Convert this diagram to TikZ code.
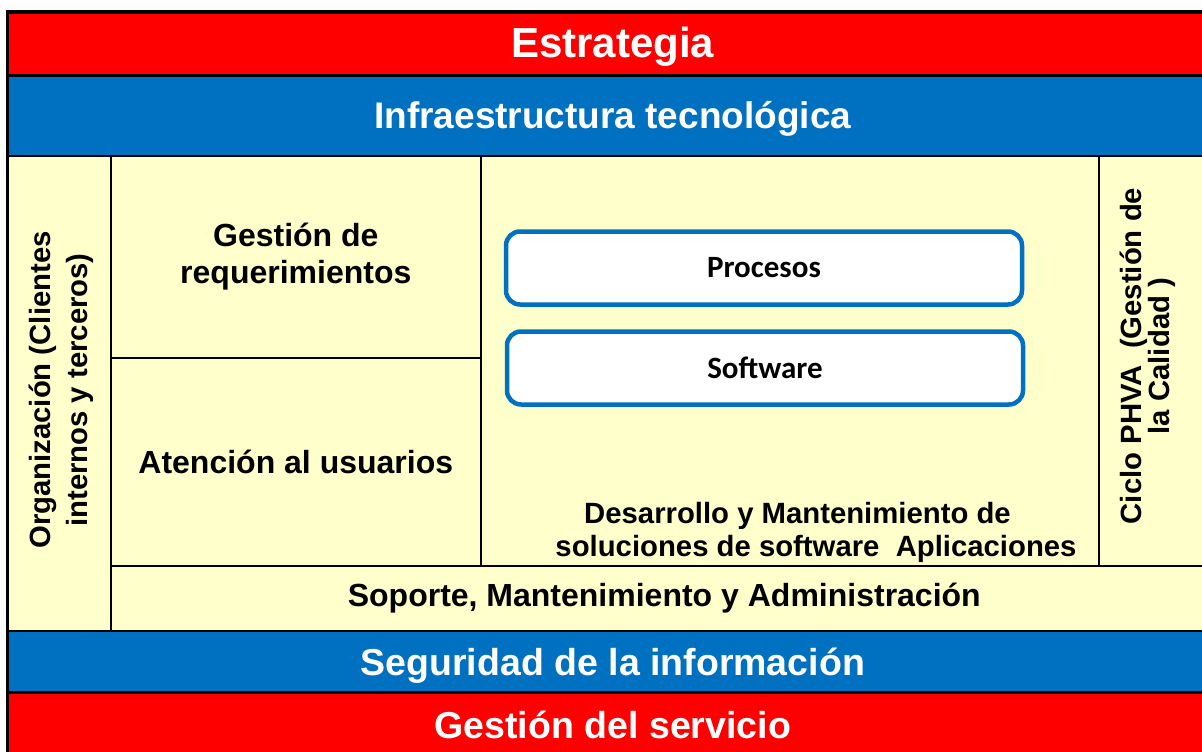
\documentclass[tikz,border=0pt]{standalone}
\usepackage{fontspec}
\setmainfont{Liberation Sans}
\newfontfamily\calibri{Carlito}
\definecolor{rojo}{HTML}{FF0000}
\definecolor{azul}{HTML}{0070C0}
\definecolor{crema}{HTML}{FFFFCC}

\begin{document}
\begin{tikzpicture}[x=1pt, y=-1pt,
  celda/.style={draw, line width=1.6pt, fill=crema, inner sep=0pt, anchor=north west, font=\bfseries\fontsize{32}{37}\selectfont, align=center},
  franja/.style={celda, text=white, font=\bfseries\fontsize{37.5}{42}\selectfont},
  caja/.style={draw=azul, line width=4.5pt, fill=white, rounded corners=14pt, minimum width=516pt, minimum height=73pt, font=\calibri\bfseries\fontsize{31}{34}\selectfont}]
\useasboundingbox (0,0) rectangle (1202,752);
\clip (0,0) rectangle (1202,752);
\fill[white] (0,0) rectangle (1202,752);
% franjas superiores
\node[franja, fill=rojo, minimum width=1210pt, minimum height=62pt, font=\bfseries\fontsize{42}{45}\selectfont, text depth=4pt] (estrategia) at (7,12) {Estrategia};
\node[franja, fill=azul, minimum width=1210pt, minimum height=81pt, font=\bfseries\fontsize{37}{42}\selectfont, text depth=0pt] (infra) at (7,74) {Infraestructura tecnológica};
% zona central
\node[celda, minimum width=103pt, minimum height=475pt] (org) at (7,155) {};
\node[celda, minimum width=370pt, minimum height=202pt] (gestreq) at (110,155) {Gestión de\\requerimientos};
\node[celda, minimum width=370pt, minimum height=208pt] (atencion) at (110,357) {Atención al usuarios};
\node[celda, minimum width=618pt, minimum height=410pt] (desarrollo) at (480,155) {};
\node[celda, minimum width=119pt, minimum height=410pt] (ciclo) at (1098,155) {};
\node[celda, minimum width=1107pt, minimum height=65pt] (soporte) at (110,565) {Soporte, Mantenimiento y Administración};
% textos verticales
\node[rotate=90, align=center, font=\bfseries\fontsize{29.3}{37}\selectfont] (orgtxt) at (61,390) {Organización (Clientes\\internos y terceros)};
\node[rotate=90, align=center, font=\bfseries\fontsize{29.3}{23}\selectfont] (ciclotxt) at (1148,356) {Ciclo PHVA\ \ (Gestión de\\la Calidad )};
% desarrollo
\node[caja] (procesos) at (764,268) {Procesos};
\node[caja] (software) at (765,368) {Software};
\node[align=center, font=\bfseries\fontsize{29.3}{33}\selectfont] (desatxt) at (816,532) {Desarrollo y Mantenimiento de\hspace*{37pt}\\soluciones de software\ \ Aplicaciones};
% franjas inferiores
\node[franja, fill=azul, minimum width=1210pt, minimum height=62pt, text depth=0pt] (seguridad) at (7,630) {Seguridad de la información};
\node[franja, fill=rojo, minimum width=1210pt, minimum height=64pt] (servicio) at (7,692) {Gestión del servicio};
\draw[line width=3pt] (estrategia.north west) rectangle (servicio.south east);
\draw[line width=3pt] (estrategia.south west) -- (estrategia.south east);
\draw[line width=3pt] (servicio.north west) -- (servicio.north east);
\end{tikzpicture}
\end{document}
